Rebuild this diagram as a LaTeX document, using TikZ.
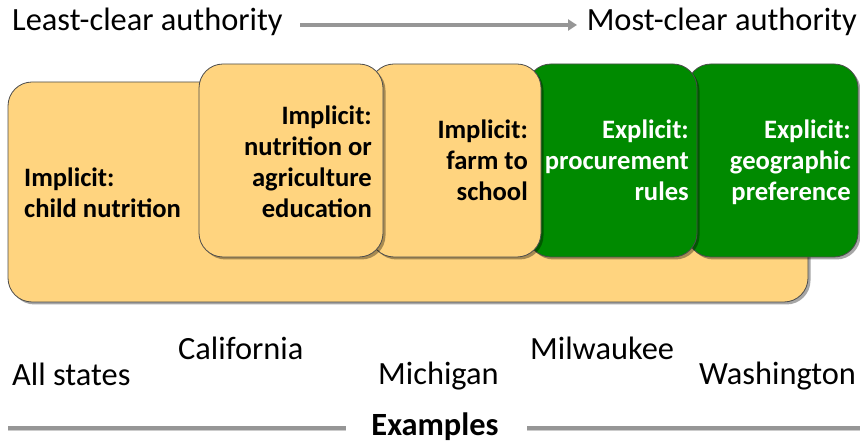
\documentclass[tikz,border=0pt]{standalone}
\usepackage{fontspec}
\setmainfont{Carlito}
\usetikzlibrary{arrows.meta,shadows}
\definecolor{boxyellow}{RGB}{255,212,127}
\definecolor{boxgreen}{RGB}{0,138,0}
\definecolor{linegray}{RGB}{150,150,150}
\tikzset{
  rbox/.style={draw=black!70, line width=0.8pt, rounded corners=24pt, inner sep=0pt,
    drop shadow={shadow xshift=2.5pt, shadow yshift=-2.5pt, fill=black, opacity=0.35}},
  ybox/.style={rbox, fill=boxyellow},
  gbox/.style={rbox, fill=boxgreen},
  boxtext/.style={font=\fontsize{26.6}{31}\selectfont\bfseries, align=right, inner sep=0pt},
  lbl/.style={font=\fontsize{32.4}{38}\selectfont, inner sep=0pt},
  rule/.style={draw=linegray, line width=3.2pt},
}
\begin{document}
\begin{tikzpicture}[x=1pt,y=-1pt]
\useasboundingbox (0,0) rectangle (860,443);
% boxes, right to left so each covers its right neighbour
\node[ybox, minimum width=800pt, minimum height=220pt] (all) at (408,192) {};
\node[gbox, minimum width=171pt, minimum height=193pt] (wa) at (772.5,160.5) {};
\node[gbox, minimum width=170pt, minimum height=193pt] (mil) at (612,160.5) {};
\node[ybox, minimum width=171pt, minimum height=193pt] (mi) at (455.5,160.5) {};
\node[ybox, minimum width=184pt, minimum height=193pt] (ca) at (291,160.5) {};
% box texts (base anchor = baseline of last line)
\node[boxtext, anchor=base west, align=left] (t1) at (24,218) {Implicit:\\child nutrition};
\node[boxtext, anchor=base east] (t2) at (372,218) {Implicit:\\nutrition or\\agriculture\\education};
\node[boxtext, anchor=base east] (t3) at (528,201) {Implicit:\\farm to\\school};
\node[boxtext, anchor=base east, text=white] (t4) at (689,201) {Explicit:\\procurement\\rules};
\node[boxtext, anchor=base east, text=white] (t5) at (851,201) {Explicit:\\geographic\\preference};
% top scale
\node[lbl, anchor=base west] (least) at (12,31) {Least-clear authority};
\node[lbl, anchor=base east] (most) at (857,31) {Most-clear authority};
\coordinate (a1) at (300,25);
\coordinate (a2) at (577,25);
\draw[line width=3.2pt, draw=linegray, -{Triangle[length=9pt,width=11pt]}] (a1) -- (a2);
% examples
\node[lbl, anchor=base west] (ex1) at (12,386) {All states};
\node[lbl, anchor=base west] (ex2) at (178,360) {California};
\node[lbl, anchor=base west] (ex3) at (378,385) {Michigan};
\node[lbl, anchor=base west] (ex4) at (530,360) {Milwaukee};
\node[lbl, anchor=base west] (ex5) at (699,385) {Washington};
\node[lbl, font=\fontsize{32.4}{38}\selectfont\bfseries, anchor=base] (exl) at (435,436) {Examples};
\coordinate (l1) at (8,428);
\coordinate (l2) at (346,428);
\coordinate (l3) at (527,428);
\coordinate (l4) at (860,428);
\draw[rule, draw=black!20, line width=2pt] ([yshift=-2.5pt]l1) -- ([yshift=-2.5pt]l2);
\draw[rule, draw=black!20, line width=2pt] ([yshift=-2.5pt]l3) -- ([yshift=-2.5pt]l4);
\draw[rule] (l1) -- (l2);
\draw[rule] (l3) -- (l4);
\end{tikzpicture}
\end{document}
